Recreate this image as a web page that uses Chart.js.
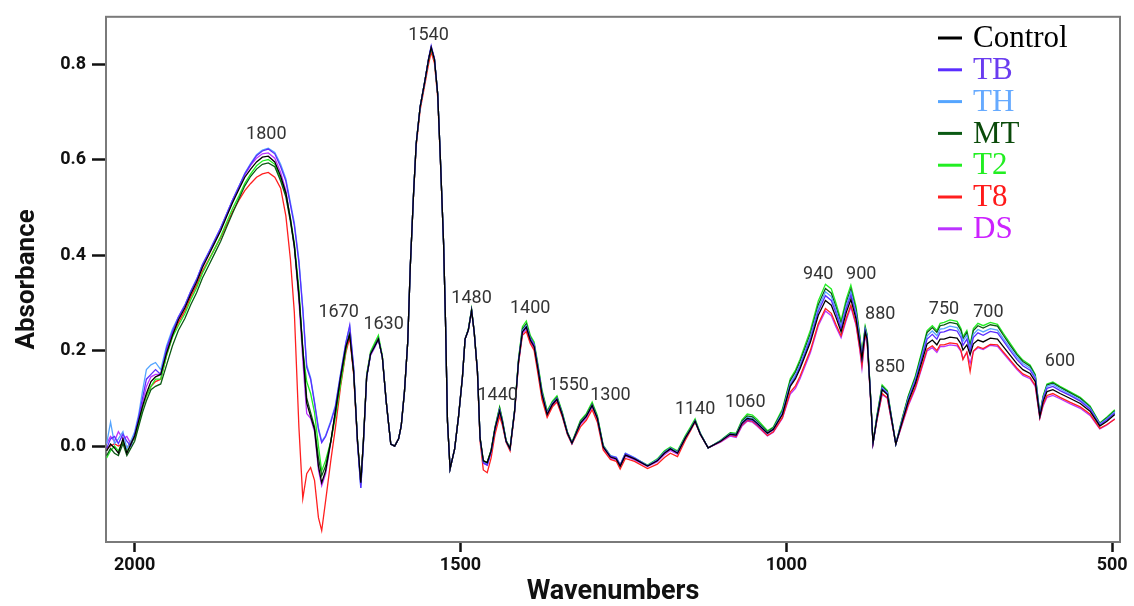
<!DOCTYPE html>
<html>
<head>
<meta charset="utf-8">
<script src="https://cdn.jsdelivr.net/npm/chart.js@4.4.1/dist/chart.umd.min.js"></script>
<style>
  body { margin: 0; background: #fff; }
  #wrap { width: 1134px; height: 606px; }
</style>
</head>
<body>
<div id="wrap"><canvas id="myChart" width="1134" height="606"></canvas></div>
<script>
// wavenumbers (cm-1), shared by every spectrum
const wavenumbers = [2043,2037,2031,2025,2018,2012,2006,2000,1994,1988,
  1982,1975,1968,1960,1951,1942,1933,1923,1914,1905,
  1896,1886,1877,1868,1859,1850,1840,1831,1822,1813,
  1804,1795,1785,1776,1768,1761,1755,1748,1742,1736,
  1730,1724,1718,1713,1707,1699,1692,1684,1676,1670,
  1664,1658,1653,1649,1644,1638,1632,1626,1620,1614,
  1607,1601,1595,1591,1586,1581,1577,1572,1568,1562,
  1555,1549,1545,1540,1535,1531,1526,1523,1520,1516,
  1509,1503,1497,1493,1488,1483,1479,1474,1470,1465,
  1459,1453,1447,1440,1436,1430,1424,1417,1411,1405,
  1399,1393,1387,1381,1375,1367,1359,1352,1344,1336,
  1329,1316,1307,1298,1290,1281,1270,1261,1255,1247,
  1233,1213,1198,1187,1178,1167,1155,1147,1140,1132,
  1120,1101,1086,1077,1068,1060,1052,1045,1029,1020,
  1006,994,986,979,963,951,940,931,924,916,
  908,901,893,887,884,879,876,871,867,861,
  853,845,838,832,822,813,802,792,784,776,
  769,764,758,749,738,732,729,723,718,713,
  706,698,687,676,667,657,646,637,626,618,
  614,611,606,600,591,580,565,549,534,519,
  508,496];

const control = [-0.010,0.004,-0.004,-0.015,0.015,-0.015,0.004,0.021,0.052,0.083,
  0.110,0.135,0.145,0.150,0.195,0.232,0.264,0.289,0.318,0.343,
  0.374,0.401,0.426,0.451,0.480,0.509,0.538,0.563,0.580,0.595,
  0.605,0.607,0.595,0.565,0.530,0.475,0.420,0.315,0.200,0.090,
  0.062,0.035,-0.042,-0.077,-0.052,0.010,0.073,0.145,0.208,0.233,
  0.156,0.010,-0.077,0.010,0.145,0.193,0.208,0.224,0.187,0.093,
  0.004,0.000,0.015,0.042,0.114,0.218,0.378,0.530,0.633,0.710,
  0.762,0.810,0.835,0.810,0.737,0.606,0.426,0.260,0.052,-0.048,
  -0.006,0.062,0.145,0.224,0.243,0.284,0.239,0.156,0.017,-0.031,
  -0.035,-0.010,0.037,0.073,0.052,0.010,-0.006,0.073,0.177,0.239,
  0.249,0.222,0.208,0.160,0.108,0.066,0.087,0.098,0.066,0.027,
  0.006,0.048,0.062,0.085,0.058,-0.002,-0.023,-0.027,-0.042,-0.019,
  -0.027,-0.042,-0.031,-0.015,-0.006,-0.015,0.017,0.035,0.052,0.025,
  -0.004,0.010,0.025,0.023,0.048,0.058,0.056,0.048,0.027,0.035,
  0.066,0.125,0.141,0.162,0.218,0.274,0.305,0.295,0.270,0.239,
  0.280,0.307,0.266,0.212,0.183,0.239,0.224,0.108,0.006,0.058,
  0.118,0.108,0.052,0.004,0.052,0.093,0.131,0.177,0.214,0.222,
  0.212,0.224,0.224,0.228,0.226,0.214,0.201,0.212,0.191,0.214,
  0.222,0.218,0.226,0.224,0.208,0.191,0.172,0.160,0.152,0.135,
  0.093,0.062,0.093,0.114,0.118,0.110,0.100,0.089,0.073,0.042,
  0.052,0.066];

const tb = [-0.005,0.015,0.020,0.005,0.025,0.010,0.000,0.025,0.060,0.100,
  0.140,0.150,0.160,0.150,0.205,0.240,0.269,0.294,0.323,0.348,
  0.379,0.406,0.431,0.456,0.485,0.514,0.543,0.570,0.590,0.608,
  0.618,0.622,0.612,0.585,0.555,0.505,0.462,0.385,0.285,0.165,
  0.140,0.090,0.035,0.007,0.020,0.050,0.082,0.150,0.215,0.253,
  0.165,0.005,-0.088,0.005,0.145,0.193,0.208,0.224,0.187,0.093,
  0.004,0.000,0.015,0.042,0.114,0.218,0.378,0.530,0.633,0.710,
  0.762,0.812,0.838,0.812,0.737,0.606,0.426,0.260,0.052,-0.048,
  -0.006,0.062,0.145,0.224,0.243,0.284,0.239,0.156,0.017,-0.035,
  -0.040,-0.012,0.037,0.075,0.053,0.010,-0.006,0.073,0.177,0.240,
  0.250,0.225,0.212,0.163,0.110,0.068,0.089,0.099,0.067,0.027,
  0.006,0.048,0.062,0.085,0.058,-0.001,-0.021,-0.024,-0.040,-0.016,
  -0.025,-0.042,-0.030,-0.014,-0.005,-0.014,0.017,0.035,0.052,0.025,
  -0.004,0.010,0.024,0.022,0.046,0.056,0.054,0.046,0.026,0.034,
  0.068,0.128,0.145,0.166,0.224,0.282,0.315,0.305,0.279,0.245,
  0.288,0.316,0.273,0.217,0.185,0.242,0.226,0.109,0.005,0.059,
  0.120,0.110,0.053,0.004,0.054,0.096,0.136,0.184,0.224,0.234,
  0.224,0.238,0.239,0.244,0.241,0.227,0.211,0.224,0.197,0.227,
  0.237,0.232,0.240,0.237,0.220,0.201,0.181,0.168,0.159,0.141,
  0.097,0.064,0.098,0.121,0.125,0.116,0.106,0.094,0.077,0.044,
  0.055,0.069];

const th = [0.005,0.050,0.005,0.015,0.030,-0.005,0.010,0.030,0.065,0.115,
  0.160,0.170,0.175,0.160,0.210,0.245,0.270,0.295,0.324,0.349,
  0.380,0.407,0.432,0.457,0.486,0.515,0.544,0.571,0.592,0.610,
  0.620,0.624,0.615,0.590,0.560,0.510,0.468,0.390,0.290,0.170,
  0.143,0.093,0.038,0.010,0.022,0.053,0.085,0.152,0.217,0.250,
  0.165,0.005,-0.088,0.005,0.145,0.193,0.208,0.224,0.187,0.093,
  0.004,0.000,0.015,0.042,0.114,0.218,0.378,0.530,0.633,0.710,
  0.762,0.811,0.836,0.811,0.737,0.606,0.426,0.260,0.052,-0.048,
  -0.006,0.062,0.145,0.224,0.243,0.284,0.239,0.156,0.017,-0.034,
  -0.038,-0.011,0.037,0.076,0.054,0.010,-0.006,0.073,0.178,0.242,
  0.252,0.226,0.213,0.164,0.111,0.069,0.090,0.100,0.068,0.028,
  0.006,0.049,0.063,0.086,0.059,0.000,-0.020,-0.023,-0.039,-0.015,
  -0.024,-0.041,-0.029,-0.013,-0.004,-0.013,0.018,0.036,0.053,0.026,
  -0.004,0.011,0.026,0.024,0.050,0.060,0.058,0.050,0.028,0.036,
  0.071,0.132,0.149,0.171,0.230,0.289,0.323,0.313,0.286,0.251,
  0.295,0.323,0.279,0.221,0.188,0.245,0.229,0.110,0.005,0.060,
  0.122,0.112,0.054,0.004,0.056,0.099,0.140,0.189,0.231,0.241,
  0.231,0.245,0.246,0.251,0.248,0.234,0.219,0.232,0.204,0.234,
  0.244,0.239,0.246,0.243,0.225,0.206,0.186,0.173,0.163,0.145,
  0.099,0.065,0.101,0.125,0.129,0.120,0.109,0.097,0.080,0.046,
  0.057,0.072];

const mt = [-0.020,-0.005,-0.015,-0.020,0.005,-0.020,-0.005,0.010,0.040,0.070,
  0.095,0.118,0.125,0.130,0.170,0.210,0.242,0.267,0.296,0.321,
  0.352,0.379,0.404,0.429,0.458,0.487,0.518,0.545,0.565,0.580,
  0.590,0.593,0.585,0.555,0.522,0.470,0.418,0.318,0.205,0.100,
  0.070,0.040,-0.025,-0.062,-0.042,0.010,0.070,0.143,0.205,0.238,
  0.155,0.010,-0.077,0.010,0.145,0.193,0.210,0.226,0.187,0.093,
  0.004,0.000,0.015,0.042,0.114,0.218,0.378,0.530,0.633,0.710,
  0.762,0.810,0.834,0.810,0.737,0.606,0.426,0.260,0.052,-0.048,
  -0.006,0.062,0.145,0.224,0.243,0.286,0.239,0.156,0.017,-0.031,
  -0.034,-0.009,0.039,0.080,0.056,0.011,-0.005,0.074,0.180,0.245,
  0.256,0.228,0.214,0.166,0.114,0.071,0.091,0.102,0.070,0.029,
  0.007,0.051,0.065,0.088,0.061,0.000,-0.021,-0.026,-0.041,-0.017,
  -0.026,-0.041,-0.029,-0.012,-0.004,-0.012,0.019,0.037,0.054,0.026,
  -0.004,0.011,0.027,0.025,0.052,0.063,0.061,0.052,0.030,0.038,
  0.074,0.137,0.155,0.177,0.236,0.296,0.330,0.320,0.292,0.257,
  0.301,0.329,0.285,0.225,0.190,0.248,0.231,0.110,0.006,0.062,
  0.125,0.114,0.055,0.004,0.058,0.103,0.144,0.195,0.238,0.248,
  0.238,0.252,0.254,0.259,0.256,0.242,0.225,0.238,0.209,0.242,
  0.252,0.247,0.254,0.251,0.232,0.212,0.191,0.177,0.167,0.148,
  0.101,0.066,0.103,0.128,0.132,0.123,0.112,0.100,0.082,0.047,
  0.059,0.074];

const t2 = [-0.025,-0.010,0.000,-0.010,0.010,-0.010,0.000,0.020,0.045,0.080,
  0.105,0.125,0.140,0.140,0.190,0.228,0.252,0.277,0.306,0.331,
  0.362,0.389,0.414,0.439,0.468,0.497,0.524,0.550,0.570,0.587,
  0.597,0.600,0.590,0.560,0.528,0.478,0.425,0.330,0.200,0.135,
  0.110,0.070,0.000,-0.052,-0.030,0.010,0.060,0.130,0.200,0.242,
  0.160,0.010,-0.080,0.010,0.150,0.198,0.215,0.232,0.190,0.093,
  0.004,0.000,0.015,0.042,0.114,0.218,0.378,0.530,0.633,0.710,
  0.762,0.810,0.833,0.810,0.737,0.606,0.426,0.260,0.052,-0.048,
  -0.006,0.062,0.145,0.224,0.245,0.287,0.240,0.156,0.017,-0.031,
  -0.034,-0.008,0.040,0.082,0.058,0.012,-0.004,0.075,0.182,0.250,
  0.262,0.232,0.218,0.170,0.118,0.074,0.094,0.105,0.072,0.030,
  0.008,0.054,0.068,0.092,0.064,0.002,-0.020,-0.025,-0.040,-0.016,
  -0.025,-0.040,-0.027,-0.010,-0.002,-0.010,0.022,0.040,0.057,0.027,
  -0.004,0.012,0.028,0.027,0.055,0.067,0.065,0.056,0.032,0.040,
  0.078,0.141,0.159,0.182,0.243,0.304,0.339,0.329,0.300,0.263,
  0.308,0.337,0.292,0.230,0.193,0.251,0.234,0.112,0.006,0.064,
  0.128,0.116,0.056,0.004,0.060,0.105,0.147,0.199,0.242,0.252,
  0.242,0.257,0.259,0.264,0.261,0.246,0.229,0.242,0.212,0.246,
  0.257,0.252,0.259,0.255,0.236,0.216,0.194,0.180,0.170,0.150,
  0.103,0.067,0.105,0.130,0.134,0.125,0.114,0.102,0.084,0.048,
  0.061,0.076];

const t8 = [-0.005,0.000,0.005,0.000,0.005,-0.005,0.010,0.015,0.045,0.080,
  0.105,0.125,0.135,0.140,0.190,0.230,0.258,0.283,0.312,0.337,
  0.366,0.391,0.414,0.437,0.463,0.490,0.515,0.535,0.550,0.563,
  0.570,0.573,0.563,0.540,0.482,0.391,0.280,0.040,-0.110,-0.058,
  -0.045,-0.072,-0.150,-0.177,-0.115,-0.030,0.038,0.125,0.195,0.227,
  0.150,0.005,-0.075,0.010,0.148,0.195,0.210,0.226,0.187,0.093,
  0.004,0.000,0.015,0.042,0.114,0.218,0.378,0.528,0.628,0.703,
  0.755,0.800,0.825,0.802,0.730,0.603,0.426,0.260,0.052,-0.048,
  -0.006,0.062,0.145,0.224,0.243,0.283,0.238,0.152,0.010,-0.050,
  -0.056,-0.025,0.025,0.062,0.045,0.008,-0.010,0.070,0.172,0.232,
  0.240,0.215,0.200,0.150,0.098,0.060,0.082,0.092,0.062,0.024,
  0.004,0.040,0.054,0.076,0.050,-0.008,-0.028,-0.032,-0.048,-0.026,
  -0.032,-0.047,-0.038,-0.024,-0.015,-0.022,0.012,0.032,0.050,0.024,
  -0.004,0.009,0.023,0.020,0.044,0.054,0.052,0.044,0.022,0.030,
  0.060,0.113,0.126,0.146,0.201,0.256,0.288,0.278,0.255,0.231,
  0.268,0.295,0.256,0.202,0.169,0.235,0.219,0.105,0.006,0.054,
  0.110,0.101,0.049,0.004,0.048,0.087,0.123,0.167,0.203,0.210,
  0.200,0.212,0.212,0.216,0.214,0.200,0.181,0.197,0.156,0.199,
  0.208,0.204,0.213,0.212,0.197,0.181,0.163,0.151,0.144,0.127,
  0.088,0.059,0.087,0.106,0.110,0.102,0.092,0.082,0.067,0.037,
  0.045,0.056];

const ds = [0.005,0.020,0.010,0.030,0.015,0.020,0.005,0.025,0.055,0.090,
  0.125,0.145,0.150,0.150,0.200,0.238,0.270,0.295,0.324,0.349,
  0.380,0.407,0.432,0.457,0.486,0.515,0.544,0.568,0.588,0.603,
  0.612,0.614,0.603,0.573,0.535,0.475,0.415,0.305,0.180,0.068,
  0.058,0.030,-0.050,-0.083,-0.058,0.008,0.073,0.145,0.208,0.233,
  0.155,0.008,-0.080,0.010,0.145,0.190,0.205,0.222,0.187,0.093,
  0.004,0.000,0.015,0.042,0.114,0.218,0.378,0.530,0.633,0.710,
  0.762,0.810,0.834,0.810,0.737,0.606,0.426,0.260,0.052,-0.048,
  -0.006,0.062,0.145,0.224,0.243,0.284,0.239,0.155,0.015,-0.036,
  -0.040,-0.014,0.033,0.068,0.049,0.009,-0.007,0.071,0.174,0.236,
  0.245,0.218,0.204,0.156,0.104,0.063,0.085,0.095,0.064,0.026,
  0.005,0.045,0.059,0.082,0.055,-0.004,-0.025,-0.029,-0.044,-0.021,
  -0.029,-0.043,-0.033,-0.018,-0.009,-0.017,0.015,0.034,0.051,0.025,
  -0.004,0.008,0.021,0.018,0.042,0.052,0.050,0.042,0.021,0.029,
  0.058,0.109,0.121,0.141,0.196,0.252,0.283,0.273,0.250,0.227,
  0.264,0.291,0.253,0.198,0.163,0.231,0.216,0.104,0.006,0.054,
  0.108,0.100,0.048,0.004,0.046,0.084,0.120,0.164,0.199,0.206,
  0.196,0.208,0.208,0.212,0.210,0.198,0.183,0.196,0.173,0.198,
  0.206,0.202,0.211,0.209,0.194,0.178,0.160,0.148,0.141,0.125,
  0.086,0.058,0.084,0.102,0.106,0.099,0.089,0.079,0.064,0.036,
  0.044,0.057];

const seriesNames = ["Control", "TB", "TH", "MT", "T2", "T8", "DS"];
const seriesColors = ["#000000", "#5a2dff", "#55a5ff", "#0b5a14", "#22ee22", "#ff1f1f", "#bb33ff"];
const legendTextColors = ["#000000", "#6a3cf0", "#66aaff", "#0a4a0a", "#22ee22", "#ff1a1a", "#cc22ff"];

// axis ticks
const xTicks = [2000, 1500, 1000, 500];
const yTicks = [0.0, 0.2, 0.4, 0.6, 0.8];

// peak annotations: label, wavenumber position, absorbance position
const peakLabels = ["1800","1540","1670","1630","1480","1400","1440","1550","1300","1140","1060","940","900","880","850","750","700","600"];
const peakWn = [1798,1549,1687,1618,1483,1393,1443,1334,1270,1140,1063,951,885,856,841,758,690,580];
const peakAbs = [0.652,0.860,0.280,0.255,0.309,0.289,0.106,0.127,0.106,0.077,0.091,0.359,0.359,0.276,0.164,0.285,0.280,0.177];

const allSeries = [control, tb, th, mt, t2, t8, ds];

const ctx = document.getElementById("myChart");

// gray frame round the plot area
const framePlugin = {
  id: "frame",
  beforeDatasetsDraw(chart) {
    const a = chart.chartArea;
    const c = chart.ctx;
    c.save();
    c.strokeStyle = "#7a7a7a";
    c.lineWidth = 2;
    c.strokeRect(a.left, a.top, a.right - a.left, a.bottom - a.top);
    c.restore();
  },
};

// peak numbers and the legend inside the plot
const labelPlugin = {
  id: "peakLabels",
  afterDatasetsDraw(chart) {
    const c = chart.ctx;
    const xs = chart.scales.x;
    const ys = chart.scales.y;
    c.save();
    c.font = "18px Roboto";
    c.fillStyle = "#333333";
    c.textAlign = "center";
    c.textBaseline = "middle";
    peakLabels.forEach((txt, i) => {
      c.fillText(txt, xs.getPixelForValue(peakWn[i]), ys.getPixelForValue(peakAbs[i]));
    });

    // legend
    c.font = "31px 'Liberation Serif'";
    c.textAlign = "left";
    seriesNames.forEach((name, i) => {
      const y = 38 + i * 31.8;
      c.strokeStyle = seriesColors[i];
      c.lineWidth = 3;
      c.beginPath();
      c.moveTo(938, y);
      c.lineTo(962, y);
      c.stroke();
      c.fillStyle = legendTextColors[i];
      c.fillText(name, 973, y + 1);
    });
    c.restore();
  },
};

var chart = new Chart(ctx, {
  type: "line",
  data: {
    datasets: seriesNames.map((name, i) => ({
      label: name,
      data: wavenumbers.map((w, j) => ({ x: w, y: allSeries[i][j] })),
      borderColor: seriesColors[i],
      borderWidth: 1.3,
      pointRadius: 0,
      tension: 0,
      fill: false,
    })),
  },
  options: {
    responsive: false,
    animation: false,
    layout: {
      padding: { left: 0, right: 14, top: 12, bottom: 0 },
    },
    plugins: {
      legend: { display: false },
      tooltip: { enabled: false },
    },
    scales: {
      x: {
        type: "linear",
        reverse: true,
        min: 488,
        max: 2044,
        border: { display: false },
        grid: { drawOnChartArea: false, drawTicks: true, tickLength: 10, tickColor: "#111", tickWidth: 2.5 },
        ticks: {
          color: "#111",
          padding: 3,
          maxRotation: 0,
          autoSkip: false,
          font: { family: "Roboto", weight: "bold", size: 18 },
          callback: (v) => String(v),
        },
        afterBuildTicks: (s) => { s.ticks = xTicks.map((v) => ({ value: v })); },
        title: {
          display: true,
          text: "Wavenumbers",
          color: "#111",
          font: { family: "Roboto", weight: "bold", size: 27, lineHeight: 1 },
          padding: { top: 0, bottom: 0 },
        },
        afterFit: (s) => { s.height = 64; },
      },
      y: {
        type: "linear",
        min: -0.201,
        max: 0.899,
        border: { display: false },
        grid: { drawOnChartArea: false, drawTicks: true, tickLength: 14, tickColor: "#111", tickWidth: 2.5 },
        ticks: {
          color: "#111",
          padding: 6,
          autoSkip: false,
          font: { family: "Roboto", weight: "bold", size: 18 },
          callback: (v) => v.toFixed(1),
        },
        afterBuildTicks: (s) => { s.ticks = yTicks.map((v) => ({ value: v })); },
        title: {
          display: true,
          text: "Absorbance",
          color: "#111",
          font: { family: "Roboto", weight: "bold", size: 26, lineHeight: 1 },
          padding: { top: 14, bottom: 0 },
        },
        afterFit: (s) => { s.width = 106; },
      },
    },
  },
  plugins: [framePlugin, labelPlugin],
});
</script>
</body>
</html>
